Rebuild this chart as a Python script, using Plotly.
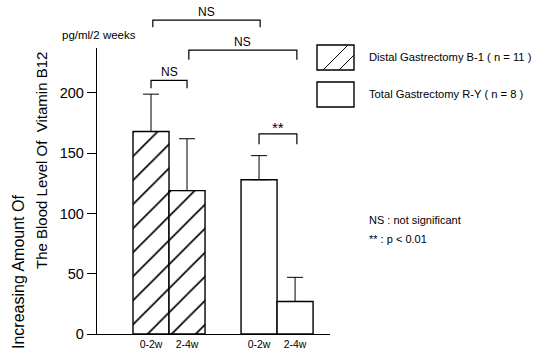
import plotly.graph_objects as go

# ---- data ----
bar_positions = [1, 2, 4, 5]
tick_labels = ["0-2w", "2-4w", "0-2w", "2-4w"]
distal_x = [1, 2]
distal_values = [168, 119]
distal_err = [31, 43]
total_x = [4, 5]
total_values = [128, 27]
total_err = [20, 20]
y_ticks = [0, 50, 100, 150, 200]
# significance brackets: (x_left, x_right, y_top, y_left_end, y_right_end, label)
brackets = [
    (1.05, 4.03, 260.5, 254.5, 254.5, "NS"),
    (2.05, 5.05, 235.5, 227.5, 227.5, "NS"),
    (1.0, 2.0, 210.5, 204, 204, "NS"),
    (4.0, 5.05, 166, 157.5, 157.5, "**"),
]

Y_MAX = 237.3
W, H = 551, 352
PL, PR, PT, PB = 97, 330, 48, 334  # plot area in page pixels
PW, PH = PR - PL, PB - PT
FONT = "Liberation Sans, Arial, sans-serif"


def px_x(px):
    return (px - PL) / PW


def px_y(py):
    return (PB - py) / PH


fig = go.Figure()
fig.add_trace(go.Bar(
    x=distal_x, y=distal_values, width=1.0,
    marker=dict(color="white", line=dict(color="black", width=1.4),
                pattern=dict(shape="/", fgcolor="black", bgcolor="white",
                             size=17, solidity=0.1, fgopacity=1)),
    error_y=dict(type="data", symmetric=False, array=distal_err,
                 arrayminus=[0, 0], color="black", thickness=1, width=8),
    showlegend=False,
))
fig.add_trace(go.Bar(
    x=total_x, y=total_values, width=1.0,
    marker=dict(color="white", line=dict(color="black", width=1.4)),
    error_y=dict(type="data", symmetric=False, array=total_err,
                 arrayminus=[0, 0], color="black", thickness=1, width=8),
    showlegend=False,
))

shapes = []
annotations = []
for x0, x1, yt, yl, yr, lab in brackets:
    shapes.append(dict(
        type="path", xref="x", yref="paper",
        path=f"M {x0} {yl / Y_MAX} L {x0} {yt / Y_MAX} L {x1} {yt / Y_MAX} L {x1} {yr / Y_MAX}",
        line=dict(color="black", width=1.2),
    ))
    annotations.append(dict(
        x=(x0 + x1) / 2, y=yt / Y_MAX, xref="x", yref="paper", text=lab, showarrow=False,
        yanchor="bottom", yshift=-1 if lab == "NS" else -4,
        font=dict(size=12 if lab == "NS" else 15, color="black", family=FONT),
    ))

# legend boxes
bx0, bx1 = 317, 354
boxes = [(45, 70, True), (82, 107, False)]
for top, bot, hatched in boxes:
    shapes.append(dict(type="rect", xref="paper", yref="paper",
                       x0=px_x(bx0), x1=px_x(bx1), y0=px_y(bot), y1=px_y(top),
                       line=dict(color="black", width=1.4), fillcolor="white"))
    if hatched:
        segs = []
        for c in range(bx0 + 6, bx1 + (bot - top), 16):
            s = c + bot  # x + y = s in screen pixels
            xa, ya = s - bot, bot
            if xa < bx0:
                xa, ya = bx0, s - bx0
            xb, yb = s - top, top
            if xb > bx1:
                xb, yb = bx1, s - bx1
            if xa < xb and ya > yb:
                segs.append(f"M {px_x(xa)} {px_y(ya)} L {px_x(xb)} {px_y(yb)}")
        shapes.append(dict(type="path", xref="paper", yref="paper", path=" ".join(segs),
                           line=dict(color="black", width=1)))

annotations += [
    dict(x=px_x(367), y=px_y(57), xref="paper", yref="paper", xanchor="left", yanchor="middle",
         text="Distal Gastrectomy B-1 ( n = 11 )", showarrow=False,
         font=dict(size=11.2, color="black", family=FONT)),
    dict(x=px_x(367), y=px_y(94), xref="paper", yref="paper", xanchor="left", yanchor="middle",
         text="Total Gastrectomy R-Y ( n = 8 )", showarrow=False,
         font=dict(size=11.2, color="black", family=FONT)),
    dict(x=px_x(367), y=px_y(220), xref="paper", yref="paper", xanchor="left", yanchor="middle",
         text="NS : not significant", showarrow=False,
         font=dict(size=11, color="black", family=FONT)),
    dict(x=px_x(367), y=px_y(239), xref="paper", yref="paper", xanchor="left", yanchor="middle",
         text="** : p &lt; 0.01", showarrow=False,
         font=dict(size=11, color="black", family=FONT)),
    dict(x=px_x(60), y=px_y(35), xref="paper", yref="paper", xanchor="left", yanchor="middle",
         text="pg/ml/2 weeks", showarrow=False,
         font=dict(size=11.5, color="black", family=FONT)),
    dict(x=px_x(18), y=px_y(272), xref="paper", yref="paper", xanchor="center", yanchor="middle",
         text="Increasing Amount Of", textangle=-90, showarrow=False,
         font=dict(size=16, color="black", family=FONT)),
    dict(x=px_x(41), y=px_y(161), xref="paper", yref="paper", xanchor="center", yanchor="middle",
         text="The Blood Level Of&nbsp; Vitamin B12", textangle=-90, showarrow=False,
         font=dict(size=15, color="black", family=FONT)),
]

fig.update_layout(
    width=W, height=H,
    margin=dict(l=PL, r=W - PR, t=PT, b=H - PB, pad=0, autoexpand=False),
    paper_bgcolor="white", plot_bgcolor="white",
    barmode="overlay",
    shapes=shapes, annotations=annotations,
    font=dict(family=FONT, color="black"),
    xaxis=dict(range=[-0.5, 5.97], tickvals=bar_positions, ticktext=tick_labels,
               showline=True, linecolor="black", linewidth=1, ticks="", automargin=False,
               showgrid=False, zeroline=False, tickfont=dict(size=10.5, color="black")),
    yaxis=dict(range=[0, Y_MAX], tickvals=y_ticks, showline=True, linecolor="black",
               linewidth=1.3, ticks="outside", ticklen=9, tickcolor="black", tickwidth=1,
               automargin=False, showgrid=False, zeroline=False,
               tickfont=dict(size=14.5, color="black")),
)

fig.write_html("out.html", config={"displayModeBar": False},
               post_script="document.body.style.margin='0px';")
